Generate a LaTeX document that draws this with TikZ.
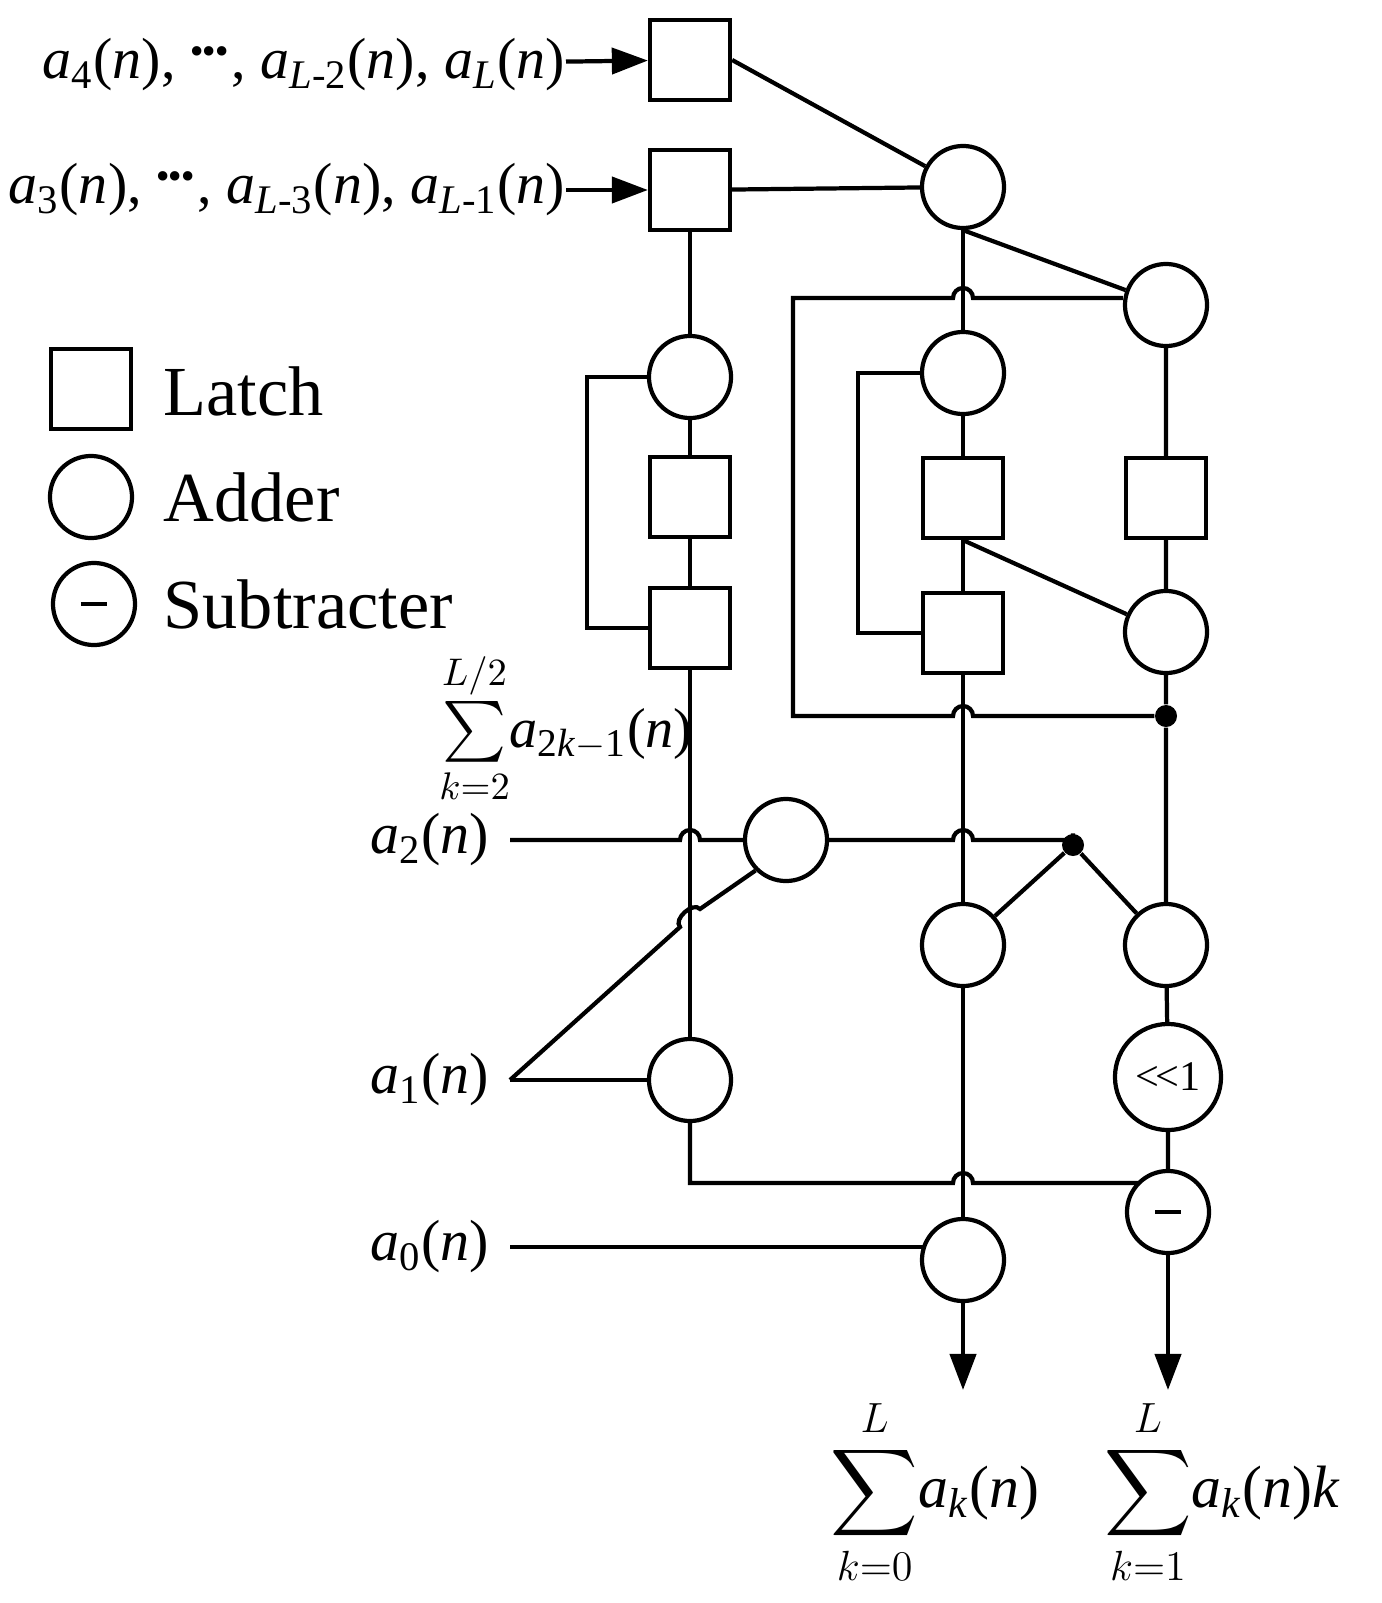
\documentclass[tikz,border=0pt]{standalone}
\usepackage{fontspec}
\setmainfont{Liberation Serif}
\usepackage{amsmath}
\usetikzlibrary{arrows.meta}
\tikzset{
  latch/.style = {draw, line width=1.2pt, minimum size=0.8cm, inner sep=0pt},
  adder/.style = {draw, circle, line width=1.2pt, minimum size=0.82cm, inner sep=0pt},
  wire/.style = {line width=1.2pt},
  arrowwire/.style = {wire, -{Triangle[length=0.36cm,width=0.26cm]}},
  dot/.style = {circle, fill, inner sep=0pt, minimum size=0.22cm},
  lbl/.style = {font=\fontsize{20}{24}\selectfont, inner sep=0pt},
  inlbl/.style = {lbl, anchor=east, font=\fontsize{16.5}{20}\selectfont},
  minus/.style = {path picture={\draw[line width=1.4pt] ([xshift=-0.13cm]path picture bounding box.center) -- ([xshift=0.13cm]path picture bounding box.center);}}
}
\newcommand{\hopr}{arc[start angle=180,end angle=0,radius=0.1cm]}
\newcommand{\hopl}{arc[start angle=0,end angle=180,radius=0.1cm]}
\newcommand{\sig}[1]{\textit{a}\textsubscript{#1}(\textit{n})}
\newcommand{\dts}{\raisebox{0.3ex}{\textbf{\kern-0.05em\textperiodcentered\kern-0.12em\textperiodcentered\kern-0.12em\textperiodcentered}}}
\begin{document}
\begin{tikzpicture}[x=0.01cm,y=0.01cm]
  \useasboundingbox (0,0) rectangle (1382,-1603);

  % legend
  \node[latch] (keyL) at (91,-389) {};
  \node[adder] (keyA) at (91,-497) {};
  \node[adder, minus] (keyS) at (94,-604) {};
  \node[lbl, anchor=west] at (163,-391) {Latch};
  \node[lbl, anchor=west] at (163,-497) {Adder};
  \node[lbl, anchor=west] at (163,-604) {Subtracter};

  % inputs
  \node[inlbl] (in4) at (566,-65) {\sig{4}, \dts, \sig{\textit{L}-2}, \sig{\textit{L}}};
  \node[inlbl] (in3) at (566,-190) {\sig{3}, \dts, \sig{\textit{L}-3}, \sig{\textit{L}-1}};
  \node[inlbl] (in2) at (490,-840) {\sig{2}};
  \node[inlbl] (in1) at (490,-1080) {\sig{1}};
  \node[inlbl] (in0) at (490,-1247) {\sig{0}};
  \coordinate (c2) at (510,-840);
  \coordinate (c1) at (510,-1080);
  \coordinate (c0) at (510,-1247);

  % blocks
  \node[latch] (L1) at (690,-60) {};
  \node[latch] (L2) at (690,-190) {};
  \node[adder] (A1) at (963,-187) {};
  \node[adder] (A2) at (1166,-305) {};
  \node[adder] (A3) at (690,-377) {};
  \node[adder] (A4) at (963,-373) {};
  \node[latch] (L3) at (690,-497) {};
  \node[latch] (L4) at (963,-498) {};
  \node[latch] (L5) at (1166,-498) {};
  \node[latch] (L6) at (690,-628) {};
  \node[latch] (L7) at (963,-633) {};
  \node[adder] (A5) at (1166,-632) {};
  \node[dot] (D1) at (1166,-716) {};
  \node[adder] (A6) at (786,-840) {};
  \node[dot] (D2) at (1073,-845) {};
  \node[adder] (A7) at (963,-945) {};
  \node[adder] (A8) at (1166,-945) {};
  \node[adder, minimum size=1.06cm, font=\fontsize{12}{12}\selectfont] (S1) at (1168,-1077) {\textless\kern-0.1em\textless1};
  \node[adder] (A9) at (690,-1080) {};
  \node[adder, minus] (Sb) at (1168,-1212) {};
  \node[adder] (A10) at (963,-1260) {};
  \coordinate (o1) at (963,-1390);
  \coordinate (o2) at (1168,-1390);

  % wires
  \draw[arrowwire] (in4) -- (L1);
  \draw[arrowwire] (in3) -- (L2);
  \draw[wire] (L1.east) -- (A1);
  \draw[wire] (L2) -- (A1);
  \draw[wire] (L2) -- (A3) -- (L3) -- (L6);
  \draw[wire] (A3.west) -- (587,-377) -- (587,-628) -- (L6.west);
  \draw[wire] (L6) -- (A9);
  \draw[wire] (A1) -- (A4) -- (L4) -- (L7) -- (A7) -- (A10);
  \draw[wire] (A1.south) -- (A2);
  \draw[wire] (A4.west) -- (858,-373) -- (858,-633) -- (L7.west);
  \draw[wire] (L4.south) -- (A5);
  \draw[wire] (A2) -- (L5) -- (A5) -- (D1) -- (A8) -- (S1) -- (Sb);
  \draw[wire] (A2.west |- 0,-298) -- (973,-298) \hopl -- (793,-298) -- (793,-716)
    -- (953,-716) \hopr -- (D1);
  \draw[wire] (c2) -- (680,-840) \hopr -- (A6.west);
  \draw[wire] (A6.east) -- (953,-840) \hopr -- (1073,-840) -- (D2);
  \draw[wire] (D2) -- (A7);
  \draw[wire] (D2) -- (A8);
  \draw[wire] (c1) -- (A9.west);
  \draw[wire] (c1) -- (680,-927) to[bend left=90] (700,-909) -- (A6.south west);
  \draw[wire] (A9.south) -- (690,-1183) -- (953,-1183) \hopr -- (1140,-1183);
  \draw[wire] (c0) -- (925,-1247);
  \draw[arrowwire] (A10) -- (o1);
  \draw[arrowwire] (Sb) -- (o2);

  % sums
  \node[font=\fontsize{16}{18}\selectfont] (sumodd) at (566,-728) {$\sum\limits_{k=2}^{L/2}$\textit{a}\textsubscript{2\textit{k}$-$1}(\textit{n})};
  \node[lbl, font=\fontsize{17}{20}\selectfont] (sum0) at (935,-1492) {$\displaystyle\sum_{k=0}^{L}$\textit{a}\textsubscript{\textit{k}}(\textit{n})};
  \node[lbl, font=\fontsize{17}{20}\selectfont] (sum1) at (1222,-1492) {$\displaystyle\sum_{k=1}^{L}$\textit{a}\textsubscript{\textit{k}}(\textit{n})\textit{k}};
\end{tikzpicture}
\end{document}
